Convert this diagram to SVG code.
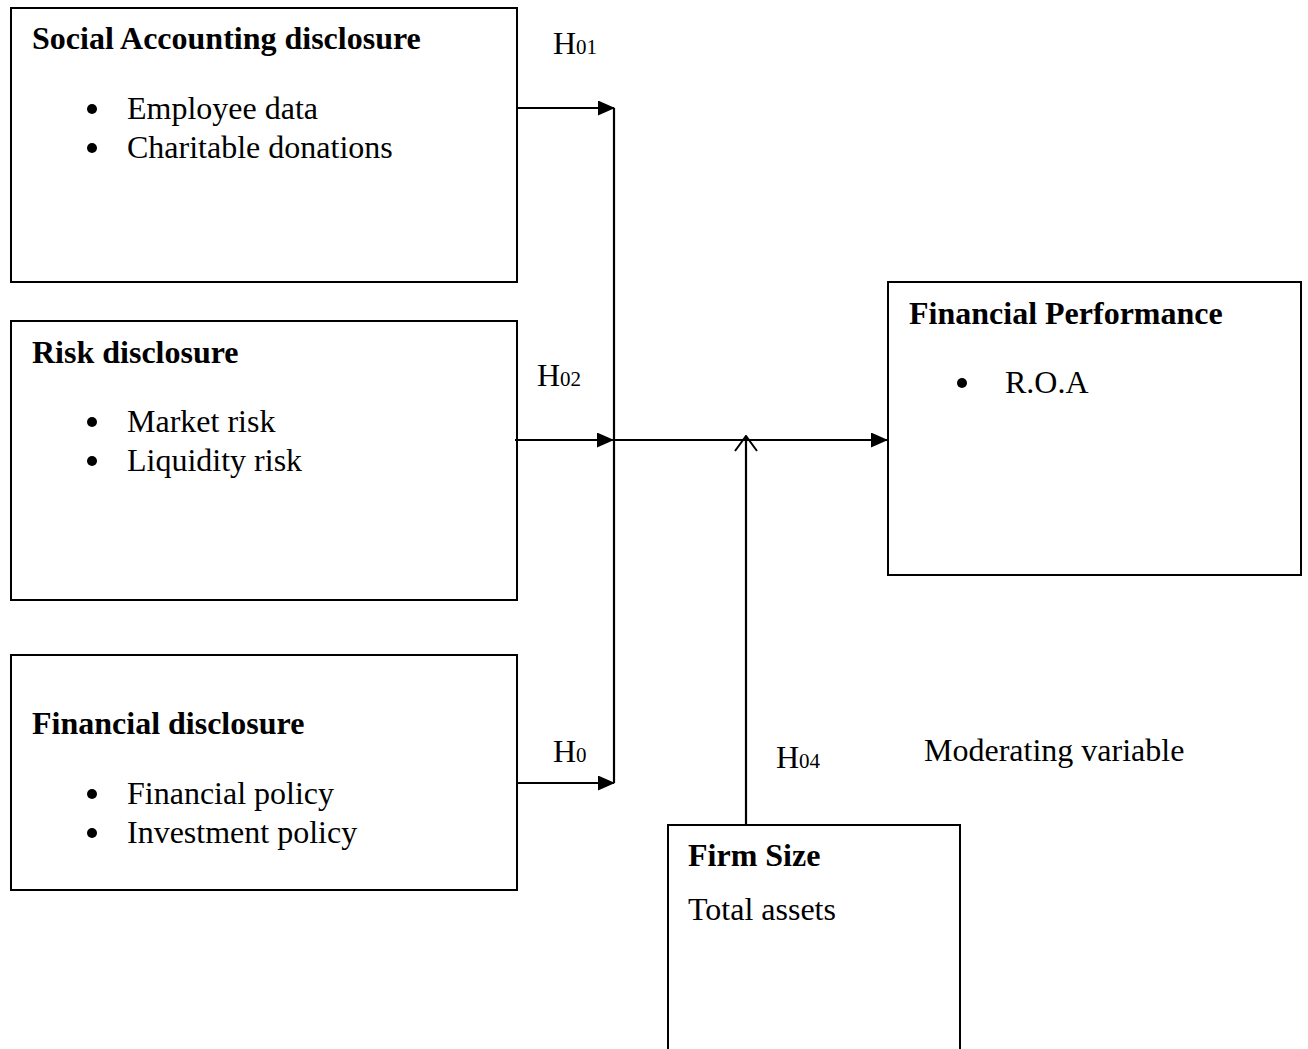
<svg xmlns="http://www.w3.org/2000/svg" width="1308" height="1049" viewBox="0 0 1308 1049">
<style>
.box{fill:#fff;stroke:#000;stroke-width:2}
text{font-family:"Liberation Serif","Times New Roman",serif;font-size:32px;fill:#000}
.b{font-weight:bold}
.sub{font-size:21px}
.ln{stroke:#000;stroke-width:2.2;fill:none}
</style>
<defs>
<marker id="ah" markerWidth="17" markerHeight="15" refX="16" refY="7.5" orient="auto" markerUnits="userSpaceOnUse">
<path d="M0,0 L17,7.5 L0,15 Z" fill="#000"/>
</marker>
<marker id="open" markerWidth="26" markerHeight="18" refX="13" refY="1" orient="0" markerUnits="userSpaceOnUse">
<path d="M2,16 L13,1 L24,16" fill="none" stroke="#000" stroke-width="2"/>
</marker>
</defs>
<rect width="1308" height="1049" fill="#fff"/>
<g id="social">
<rect class="box" x="11" y="8" width="506" height="274"/>
<text class="b" x="32" y="49">Social Accounting disclosure</text>
<circle cx="92" cy="109" r="5"/>
<text x="127" y="119">Employee data</text>
<circle cx="92" cy="148" r="5"/>
<text x="127" y="158">Charitable donations</text>
</g>
<g id="risk">
<rect class="box" x="11" y="321" width="506" height="279"/>
<text class="b" x="32" y="363">Risk disclosure</text>
<circle cx="92" cy="422" r="5"/>
<text x="127" y="432">Market risk</text>
<circle cx="92" cy="461" r="5"/>
<text x="127" y="471">Liquidity risk</text>
</g>
<g id="financial">
<rect class="box" x="11" y="655" width="506" height="235"/>
<text class="b" x="32" y="734">Financial disclosure</text>
<circle cx="92" cy="794" r="5"/>
<text x="127" y="804">Financial policy</text>
<circle cx="92" cy="833" r="5"/>
<text x="127" y="843">Investment policy</text>
</g>
<g id="performance">
<rect class="box" x="888" y="282" width="413" height="293"/>
<text class="b" x="909" y="324">Financial Performance</text>
<circle cx="962" cy="383" r="5"/>
<text x="1005" y="393">R.O.A</text>
</g>
<g id="firmsize">
<path class="box" d="M668,1052 L668,825 L960,825 L960,1052"/>
<text class="b" x="688" y="866">Firm Size</text>
<text x="688" y="920">Total assets</text>
</g>
<g id="connectors">
<line class="ln" x1="517" y1="108" x2="614" y2="108" marker-end="url(#ah)"/>
<line class="ln" x1="614" y1="108" x2="614" y2="783"/>
<line class="ln" x1="515" y1="440" x2="613" y2="440" marker-end="url(#ah)"/>
<line class="ln" x1="614" y1="440" x2="887" y2="440" marker-end="url(#ah)"/>
<line class="ln" x1="517" y1="783" x2="614" y2="783" marker-end="url(#ah)"/>
<line class="ln" x1="746" y1="825" x2="746" y2="436" marker-end="url(#open)"/>
</g>
<g id="labels">
<text x="553" y="54">H<tspan class="sub">01</tspan></text>
<text x="537" y="386">H<tspan class="sub">02</tspan></text>
<text x="553" y="762">H<tspan class="sub">0</tspan></text>
<text x="776" y="768">H<tspan class="sub">04</tspan></text>
<text x="924" y="761">Moderating variable</text>
</g>
</svg>
